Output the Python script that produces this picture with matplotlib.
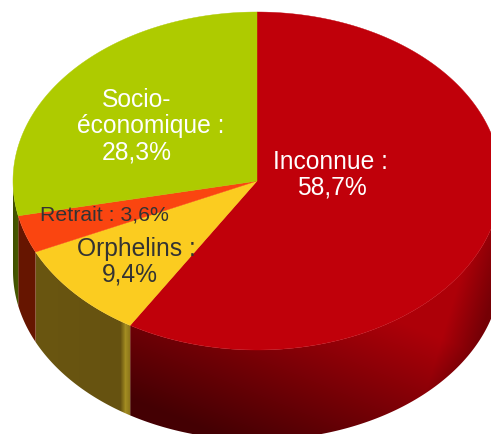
import numpy as np
import matplotlib
matplotlib.use("Agg")
import matplotlib.pyplot as plt
from matplotlib.patches import Polygon

plt.rcParams['font.family'] = ['Liberation Sans', 'DejaVu Sans']

categories = ['Inconnue', 'Orphelins', 'Retrait', 'Socio-économique']
values = [58.7, 9.4, 3.6, 28.3]
colors = ['#c0000a', '#fbcc20', '#fa4510', '#aecb00']

cx, cy, rx, ry, depth = 257, 182, 244, 169, 90


def arc(a0, a1, dy=0):
    # angles in degrees, clockwise from the top of the pie
    t = np.radians(np.linspace(a0, a1, 200))
    return np.column_stack([cx + rx * np.sin(t), cy - ry * np.cos(t) + dy])


def side_image(ax, patch, xs, cols):
    # horizontal colour ramp clipped to the side of a slice
    xx = np.arange(0, 491)
    rgb = np.array([matplotlib.colors.to_rgb(c) for c in cols])
    ramp = np.column_stack([np.interp(xx, xs, rgb[:, i]) for i in range(3)])
    im = ax.imshow(ramp[None, :, :], extent=(0, 491, 435, 0), aspect='auto', zorder=1)
    im.set_clip_path(patch)


def red_side(ax, patch):
    # the red side gets lighter towards the upper right, then falls off at the edge
    xx, yy = np.meshgrid(np.arange(0, 491), np.arange(0, 435))
    r = np.clip(0.42 + 0.0009 * (xx - 130) - 0.0022 * (yy - 330), 0.27, 0.68)
    r = r * np.interp(xx + 0.3 * (yy - 270), [462, 500], [1, 0.68])
    g = np.zeros_like(r)
    b = r * 0.05
    im = ax.imshow(np.dstack([r, g, b]), extent=(0, 491, 435, 0), aspect='auto', zorder=1)
    im.set_clip_path(patch)


fig = plt.figure(figsize=(4.91, 4.35), dpi=100)
ax = fig.add_axes([0, 0, 1, 1])

edges = np.concatenate([[0], np.cumsum(values)]) / sum(values) * 360

# sides first, only the part of the rim facing the viewer
side_ramps = {
    'Orphelins': ([35, 36, 120, 125, 130], ['#6a5610', '#6a5610', '#665210', '#a38c22', '#8a7418']),
    'Retrait': ([18, 34, 35], ['#661500', '#661500', '#701c04']),
    'Socio-économique': ([13, 18], ['#3f4f00', '#4a5c00']),
}
for i, name in enumerate(categories):
    a0, a1 = edges[i], edges[i + 1]
    a0, a1 = max(a0, 90), min(a1, 270)
    if a1 <= a0:
        continue
    pts = np.vstack([arc(a0, a1), arc(a0, a1, depth)[::-1]])
    patch = Polygon(pts, closed=True, fc='none', ec='none', transform=ax.transData)
    ax.add_patch(patch)
    if name == 'Inconnue':
        red_side(ax, patch)
    else:
        side_image(ax, patch, *side_ramps[name])

# top of the pie
for i, name in enumerate(categories):
    pts = np.vstack([[cx, cy], arc(edges[i], edges[i + 1])])
    ax.add_patch(Polygon(pts, closed=True, fc=colors[i], ec=colors[i], lw=0.3, zorder=2))

# labels are wrapped by hand, each line sits where the reference has it
big = dict(fontsize=17.7, ha='center', va='center', zorder=3)
ax.text(330.5, 162, 'Inconnue :', color='white', **big)
ax.text(331.5, 188, '58,7%', color='white', **big)
ax.text(137, 100, 'Socio-', color='white', **big)
ax.text(150.5, 126, 'économique :', color='white', **big)
ax.text(136.5, 153, '28,3%', color='white', **big)
ax.text(136.5, 249, 'Orphelins :', color='#333333', **big)
ax.text(130, 275, '9,4%', color='#333333', **big)
ax.text(104, 215.5, 'Retrait : 3,6%', color='#333333', fontsize=15.3, ha='center', va='center', zorder=3)

ax.set_xlim(0, 491)
ax.set_ylim(435, 0)
ax.axis('off')
fig.savefig('out.png', dpi=100)
